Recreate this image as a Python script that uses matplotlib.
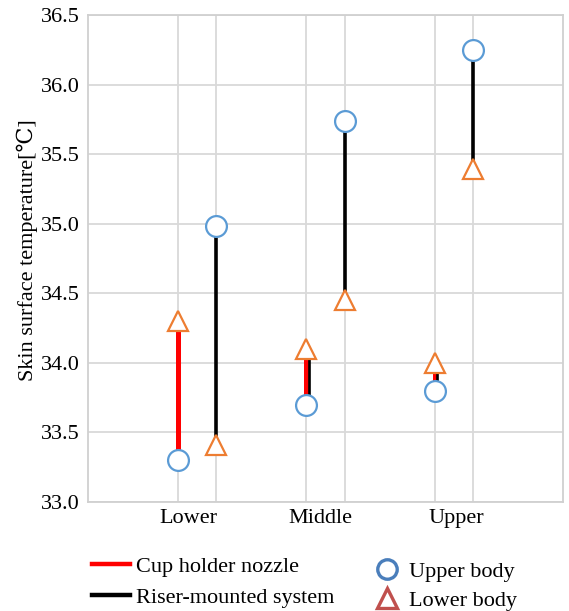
import numpy as np
import matplotlib.pyplot as plt
from matplotlib.lines import Line2D

# data
regions = ["Lower", "Middle", "Upper"]
cup_upper = [33.30, 33.70, 33.80]     # cup holder nozzle, upper body
cup_lower = [34.30, 34.10, 34.00]     # cup holder nozzle, lower body
riser_upper = [34.98, 35.74, 36.25]   # riser-mounted system, upper body
riser_lower = [33.41, 34.45, 35.39]   # riser-mounted system, lower body
yticks = [33.0, 33.5, 34.0, 34.5, 35.0, 35.5, 36.0, 36.5]

plt.rcParams['font.family'] = ['Liberation Serif', 'DejaVu Serif']

fig = plt.figure(figsize=(5.69, 6.11), dpi=100)
ax = fig.add_axes([88/569, 1 - 502/611, (563 - 88)/569, (502 - 15)/611])

xc = np.arange(1, 4)
x_cup = xc - 0.15
x_riser = xc + 0.15

# range lines (behind the markers)
ax.vlines(x_cup, cup_upper, cup_lower, color='red', lw=3.6, zorder=2)
ax.vlines(x_riser, riser_upper, riser_lower, color='black', lw=2.6, zorder=2)
# thin black sliver that shows on the right edge of the middle/upper red lines
ax.vlines(x_cup[1:] + 0.02, cup_upper[1:], cup_lower[1:], color='black', lw=1.9, zorder=2.5)

circ = dict(marker='o', ms=15, mfc='white', mec='#5b9bd5', mew=1.6, ls='none', zorder=3)
tri = dict(marker='^', ms=15, mfc='white', mec='#ed7d31', mew=1.6, ls='none', zorder=3)
ax.plot(x_cup, cup_upper, **circ)
ax.plot(x_riser, riser_upper, **circ)
ax.plot(x_cup, cup_lower, **tri)
ax.plot(x_riser, riser_lower, **tri)

ax.set_xlim(0.15, 3.85)
ax.set_ylim(33.0, 36.5)
ax.set_yticks(yticks)
ax.set_yticklabels([f"{v:.1f}" for v in yticks], fontsize=16)

ax.set_xticks(np.sort(np.concatenate([x_cup, x_riser])))
ax.set_xticklabels([])
ax.set_xticks([0.93, 1.96, 3.02], minor=True)
ax.set_xticklabels(regions, minor=True, fontsize=16)
ax.tick_params(axis='both', which='both', length=0)
ax.tick_params(axis='y', pad=6)
ax.tick_params(axis='x', which='minor', pad=5)

ax.grid(True, which='major', color='#d9d9d9', lw=1.3, zorder=0)
ax.set_axisbelow(True)
for s in ax.spines.values():
    s.set_color('#d0d0d0')
    s.set_linewidth(1.3)

fig.text(27/569, 1 - 250/611, "Skin surface temperature[℃]", rotation=90,
         ha='center', va='center', fontsize=16)

# legends
h1 = [Line2D([], [], color='red', lw=3.2), Line2D([], [], color='black', lw=3.2)]
leg1 = fig.legend(h1, ["Cup holder nozzle", "Riser-mounted system"], loc='upper left',
                  bbox_to_anchor=(92/569, 1 - 556/611), frameon=False, fontsize=16,
                  handlelength=1.7, handletextpad=0.3, labelspacing=0.5,
                  borderpad=0, borderaxespad=0)
h2 = [Line2D([], [], marker='o', ms=14, mfc='white', mec='#4a7ebb', mew=2.4, ls='none'),
      Line2D([], [], marker='^', ms=14, mfc='white', mec='#c0504d', mew=2.4, ls='none')]
leg2 = fig.legend(h2, ["Upper body", "Lower body"], loc='upper left',
                  bbox_to_anchor=(375/569, 1 - 561/611), frameon=False, fontsize=16,
                  handlelength=1.1, handletextpad=0.45, labelspacing=0.4,
                  borderpad=0, borderaxespad=0)

fig.savefig("out.png", dpi=100)
